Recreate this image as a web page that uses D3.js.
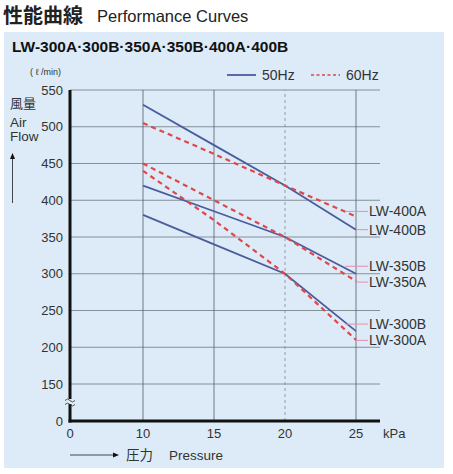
<!DOCTYPE html>
<html>
<head>
<meta charset="utf-8">
<script src="https://cdn.jsdelivr.net/npm/d3@7"></script>
<style>
  body { margin: 0; background: #fff; }
  svg { display: block; font-family: "Liberation Sans", Arial, "Noto Sans CJK JP", sans-serif; }
</style>
</head>
<body>
<svg id="chart" width="453" height="474"></svg>
<script>
// pressure (kPa) sample points
const pressures = [10, 15, 20, 25];

// air flow (l/min) per model
const lw400A = [505, 463, 420, 378];
const lw400B = [530, 475, 420, 360];
const lw350B = [420, 385, 350, 300];
const lw350A = [450, 400, 350, 290];
const lw300B = [380, 340, 300, 222];
const lw300A = [440, 373, 300, 210];

const seriesNames = ["LW-400A", "LW-400B", "LW-350B", "LW-350A", "LW-300B", "LW-300A"];
const seriesFreq = ["60Hz", "50Hz", "50Hz", "60Hz", "50Hz", "60Hz"];
const seriesValues = [lw400A, lw400B, lw350B, lw350A, lw300B, lw300A];

const xTicks = [0, 10, 15, 20, 25];
const yTicks = [0, 150, 200, 250, 300, 350, 400, 450, 500, 550];
const xGrid = [10, 15, 20, 25];
const yGrid = [150, 200, 250, 300, 350, 400, 450, 500, 550];

const blue = "#4a5c9c";
const red = "#e0474c";
const pink = "#e58fb0";
const ink = "#333";

const svg = d3.select("#chart");

// panel
svg.append("rect")
    .attr("x", 4).attr("y", 32)
    .attr("width", 440).attr("height", 436)
    .attr("fill", "#dcebf7");

// titles
svg.append("text")
    .attr("x", 3).attr("y", 23)
    .attr("font-family", "Noto Sans CJK JP")
    .attr("font-size", 20).attr("font-weight", "bold")
    .attr("fill", "#222")
    .text("性能曲線");
svg.append("text")
    .attr("x", 97).attr("y", 22)
    .attr("font-size", 16.5)
    .attr("fill", "#222")
    .text("Performance Curves");
svg.append("text")
    .attr("x", 12).attr("y", 52)
    .attr("font-size", 15.5).attr("font-weight", "bold")
    .attr("fill", "#111")
    .text("LW-300A·300B·350A·350B·400A·400B");

// broken axes: piecewise scales
const x = d3.scaleLinear().domain([0, 10, 25]).range([70, 143, 356]);
const y = d3.scaleLinear().domain([0, 150, 550]).range([421, 384, 90]);
const xEnd = 380;

// grid
svg.append("g")
    .selectAll("line")
    .data(yGrid)
    .join("line")
    .attr("x1", x(0)).attr("x2", xEnd)
    .attr("y1", d => y(d)).attr("y2", d => y(d))
    .attr("stroke", "#6f7780").attr("stroke-width", 0.8);

svg.append("g")
    .selectAll("line")
    .data(xGrid)
    .join("line")
    .attr("x1", d => x(d)).attr("x2", d => x(d))
    .attr("y1", y(0)).attr("y2", y(550))
    .attr("stroke", d => d === 20 ? "#8a9098" : "#555c63")
    .attr("stroke-width", d => d === 20 ? 0.9 : 0.8)
    .attr("stroke-dasharray", d => d === 20 ? "3,3" : null);

// axes lines
svg.append("line")
    .attr("x1", x(0)).attr("x2", x(0))
    .attr("y1", y(550)).attr("y2", y(0) + 1.5)
    .attr("stroke", "#111").attr("stroke-width", 3);
svg.append("line")
    .attr("x1", x(0) - 1.5).attr("x2", xEnd)
    .attr("y1", y(0)).attr("y2", y(0))
    .attr("stroke", "#111").attr("stroke-width", 3);

// axis break mark
const by = 402;
svg.append("rect")
    .attr("x", x(0) - 4).attr("y", by - 3)
    .attr("width", 8).attr("height", 5)
    .attr("fill", "#dcebf7");
[-2.5, 1.5].forEach(off => {
    svg.append("path")
        .attr("d", `M${x(0) - 5},${by + off + 1} q2.5,-3 5,0 t5,0`)
        .attr("fill", "none").attr("stroke", "#333").attr("stroke-width", 0.8);
});

// tick labels
svg.append("g")
    .selectAll("text")
    .data(yTicks)
    .join("text")
    .attr("x", 63).attr("y", d => y(d) + 4.5)
    .attr("text-anchor", "end")
    .attr("font-size", 13).attr("fill", ink)
    .text(d => d);

svg.append("g")
    .selectAll("text")
    .data(xTicks)
    .join("text")
    .attr("x", d => x(d)).attr("y", 438)
    .attr("text-anchor", "middle")
    .attr("font-size", 13).attr("fill", ink)
    .text(d => d);

svg.append("text")
    .attr("x", 383).attr("y", 438)
    .attr("font-size", 13).attr("fill", ink)
    .text("kPa");

// y axis title
svg.append("text")
    .attr("x", 30).attr("y", 75)
    .attr("font-size", 9).attr("fill", ink)
    .text("( ℓ /min)");
svg.append("text")
    .attr("x", 10).attr("y", 108)
    .attr("font-family", "Noto Sans CJK JP")
    .attr("font-size", 13).attr("fill", ink)
    .text("風量");
svg.append("text")
    .attr("x", 10).attr("y", 127)
    .attr("font-size", 13.5).attr("fill", ink)
    .text("Air");
svg.append("text")
    .attr("x", 10).attr("y", 141)
    .attr("font-size", 13.5).attr("fill", ink)
    .text("Flow");
svg.append("line")
    .attr("x1", 12.5).attr("x2", 12.5)
    .attr("y1", 203).attr("y2", 158)
    .attr("stroke", ink).attr("stroke-width", 0.9);
svg.append("path")
    .attr("d", "M12.5,153 L10,159 L15,159 Z")
    .attr("fill", "#111");

// x axis title
svg.append("line")
    .attr("x1", 70).attr("x2", 114)
    .attr("y1", 455).attr("y2", 455)
    .attr("stroke", ink).attr("stroke-width", 0.9);
svg.append("path")
    .attr("d", "M119,455 L113,452.5 L113,457.5 Z")
    .attr("fill", "#111");
svg.append("text")
    .attr("x", 126).attr("y", 460)
    .attr("font-family", "Noto Sans CJK JP")
    .attr("font-size", 13.5).attr("fill", ink)
    .text("圧力");
svg.append("text")
    .attr("x", 169).attr("y", 460)
    .attr("font-size", 13.5).attr("fill", ink)
    .text("Pressure");

// legend
svg.append("line")
    .attr("x1", 227).attr("x2", 256)
    .attr("y1", 75).attr("y2", 75)
    .attr("stroke", blue).attr("stroke-width", 1.8);
svg.append("text")
    .attr("x", 262).attr("y", 80)
    .attr("font-size", 14).attr("fill", ink)
    .text("50Hz");
svg.append("line")
    .attr("x1", 311).attr("x2", 340)
    .attr("y1", 75).attr("y2", 75)
    .attr("stroke", red).attr("stroke-width", 1.6)
    .attr("stroke-dasharray", "3,2.5");
svg.append("text")
    .attr("x", 346).attr("y", 80)
    .attr("font-size", 14).attr("fill", ink)
    .text("60Hz");

// curves
const line = d3.line()
    .x((d, i) => x(pressures[i]))
    .y(d => y(d));

// draw 50Hz first, dashed 60Hz on top
const order = d3.range(seriesNames.length)
    .sort((a, b) => d3.ascending(seriesFreq[a] === "60Hz", seriesFreq[b] === "60Hz"));

order.forEach(i => {
    const is60 = seriesFreq[i] === "60Hz";
    svg.append("path")
        .datum(seriesValues[i])
        .attr("fill", "none")
        .attr("stroke", is60 ? red : blue)
        .attr("stroke-width", is60 ? 2.2 : 1.8)
        .attr("stroke-dasharray", is60 ? "5,4" : null)
        .attr("d", line);
});

// labels with leader lines: upper model of each pair sits a bit above its line end
const labelShift = [-5, 0, -7.5, 1, -7, 0.5];
seriesNames.forEach((name, i) => {
    const vals = seriesValues[i];
    const ly = y(vals[vals.length - 1]) + labelShift[i];
    const lx0 = labelShift[i] < -3 ? x(25) - 11 : x(25);
    svg.append("line")
        .attr("x1", lx0).attr("x2", 368)
        .attr("y1", ly).attr("y2", ly)
        .attr("stroke", pink).attr("stroke-width", 1);
    svg.append("text")
        .attr("x", 369).attr("y", ly + 5)
        .attr("font-size", 14).attr("fill", ink)
        .text(name);
});
</script>
</body>
</html>
